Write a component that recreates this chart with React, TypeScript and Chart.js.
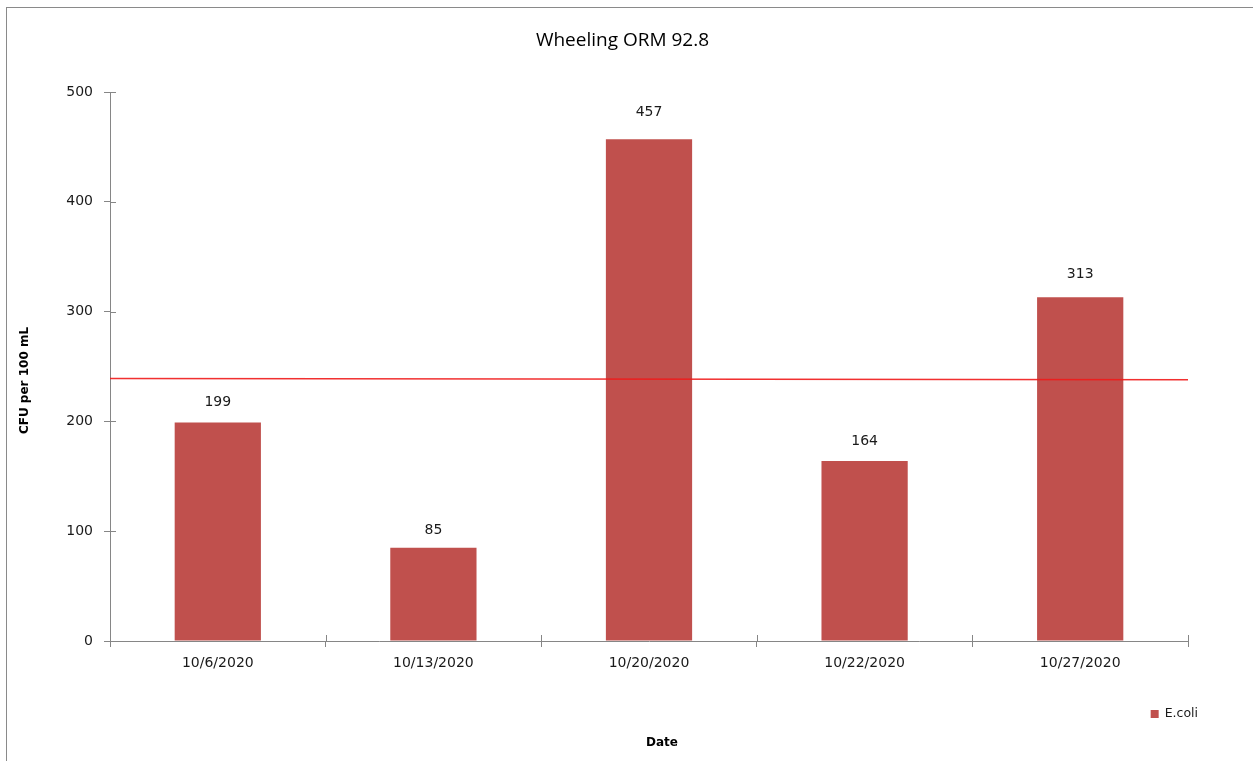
import React, { useEffect, useRef } from "react";
import { Chart, registerables } from "chart.js";

Chart.register(...registerables);

// ---- data ----
const chartTitle = "Wheeling ORM 92.8";
const categories = ["10/6/2020", "10/13/2020", "10/20/2020", "10/22/2020", "10/27/2020"];
const seriesLabel = "E.coli";
const ecoliValues = [199, 85, 457, 164, 313];
const thresholdValues = [239, 238]; // reference line, left end and right end
const yTicks = [0, 100, 200, 300, 400, 500];
const xAxisTitle = "Date";
const yAxisTitle = "CFU per 100 mL";

// ---- styles ----
const FONT = "'DejaVu Sans', Verdana, sans-serif";
const AXIS = "#868686";
const BAR = "#C0504D";
const TEXT = "#1a1a1a";

const excelPlugin = {
  id: "excelExtras",
  afterDatasetsDraw(chart: any) {
    const ctx = chart.ctx;
    const meta = chart.getDatasetMeta(0);
    ctx.save();
    ctx.font = `14px ${FONT}`;
    ctx.fillStyle = TEXT;
    ctx.textAlign = "center";
    ctx.textBaseline = "middle";
    meta.data.forEach((bar: any, i: number) => {
      const h = bar.base - bar.y;
      ctx.fillText(String(ecoliValues[i]), bar.x, bar.y - 15 - h * 0.0228);
    });
    ctx.restore();
  },
  afterDraw(chart: any) {
    const ctx = chart.ctx;
    const ca = chart.chartArea;
    const xs = chart.scales.x;
    const ys = chart.scales.y;
    ctx.save();
    // inner halves of the cross tick marks
    ctx.strokeStyle = AXIS;
    ctx.lineWidth = 1;
    ctx.beginPath();
    yTicks.forEach((v) => {
      const py = Math.round(ys.getPixelForValue(v)) + 0.5;
      ctx.moveTo(ca.left, py);
      ctx.lineTo(ca.left + 6, py);
    });
    for (let i = 0; i <= categories.length; i++) {
      const px = Math.round(xs.getPixelForValue(i - 0.5)) + 0.5;
      ctx.moveTo(px, ca.bottom);
      ctx.lineTo(px, ca.bottom - 6);
    }
    ctx.stroke();

    // axis titles
    ctx.fillStyle = "#000";
    ctx.font = `bold 12px ${FONT}`;
    ctx.textAlign = "center";
    ctx.textBaseline = "middle";
    ctx.fillText(xAxisTitle, (ca.left + ca.right) / 2 + 13, chart.height - 18);
    ctx.save();
    ctx.translate(25, chart.height / 2);
    ctx.rotate(-Math.PI / 2);
    ctx.fillText(yAxisTitle, 0, 0);
    ctx.restore();

    // legend
    ctx.font = `12.5px ${FONT}`;
    const tw = ctx.measureText(seriesLabel).width;
    const textRight = ca.right + 10;
    const textLeft = textRight - tw;
    const ly = 714;
    ctx.fillStyle = BAR;
    ctx.fillRect(textLeft - 14, ly - 4, 8, 8);
    ctx.fillStyle = TEXT;
    ctx.textAlign = "left";
    ctx.fillText(seriesLabel, textLeft, ly);
    ctx.restore();
  },
};

export default function App() {
  const ref = useRef<HTMLCanvasElement | null>(null);

  useEffect(() => {
    const canvas = ref.current;
    if (!canvas) return;
    const chart = new Chart(canvas, {
      type: "bar",
      data: {
        labels: categories,
        datasets: [
          {
            type: "bar",
            label: seriesLabel,
            data: ecoliValues,
            backgroundColor: BAR,
            categoryPercentage: 1,
            barPercentage: 0.4,
            grouped: false,
            xAxisID: "x",
            yAxisID: "y",
            order: 2,
          } as any,
          {
            type: "line",
            label: "Threshold",
            data: thresholdValues.map((v, i) => ({ x: i / (thresholdValues.length - 1), y: v })),
            xAxisID: "xl",
            yAxisID: "y",
            borderColor: "rgba(240,25,25,0.9)",
            borderWidth: 1.5,
            pointRadius: 0,
            fill: false,
            order: 1,
          } as any,
        ],
      },
      options: {
        responsive: false,
        animation: false,
        devicePixelRatio: 1,
        layout: { padding: { left: 0, right: 8, top: 0, bottom: 0 } },
        plugins: {
          legend: { display: false },
          tooltip: { enabled: false },
          title: {
            display: true,
            text: chartTitle,
            color: "#000",
            font: { family: "'Open Sans', sans-serif", size: 19, weight: "normal" },
            padding: { top: 29.6, bottom: 39.6 },
          },
        },
        scales: {
          x: {
            type: "category",
            position: "bottom",
            grid: { display: true, drawOnChartArea: false, drawTicks: true, tickLength: 6, color: AXIS, offset: true },
            border: { display: true, color: AXIS },
            ticks: { color: TEXT, font: { family: FONT, size: 14 }, padding: 7.5, maxRotation: 0, autoSkip: false },
            afterFit: (s: any) => {
              s.height = 120;
            },
          },
          xl: { type: "linear", display: false, min: 0, max: 1, offset: false, grid: { offset: false } },
          y: {
            type: "linear",
            position: "left",
            min: yTicks[0],
            max: yTicks[yTicks.length - 1],
            ticks: { stepSize: yTicks[1] - yTicks[0], color: TEXT, font: { family: FONT, size: 14 }, padding: 11 },
            grid: { display: true, drawOnChartArea: false, drawTicks: true, tickLength: 6, color: AXIS },
            border: { display: true, color: AXIS },
            afterFit: (s: any) => {
              s.width = 110;
            },
          },
          yR: {
            type: "linear",
            position: "right",
            display: true,
            grid: { display: false },
            border: { display: false },
            ticks: { display: false },
            afterFit: (s: any) => {
              s.width = 57;
            },
          },
        },
      } as any,
      plugins: [excelPlugin],
    });
    return () => chart.destroy();
  }, []);

  return (
    <div style={{ position: "fixed", left: 0, top: 0, width: 1253, height: 761, background: "#fff", overflow: "hidden" }}>
      <div
        style={{
          position: "absolute",
          left: 6,
          top: 7,
          width: 1400,
          height: 900,
          borderLeft: "1px solid #8a8a8a",
          borderTop: "1px solid #8a8a8a",
          boxSizing: "border-box",
        }}
      />
      <canvas ref={ref} width={1253} height={761} style={{ position: "absolute", left: 0, top: 0, display: "block" }} />
    </div>
  );
}
